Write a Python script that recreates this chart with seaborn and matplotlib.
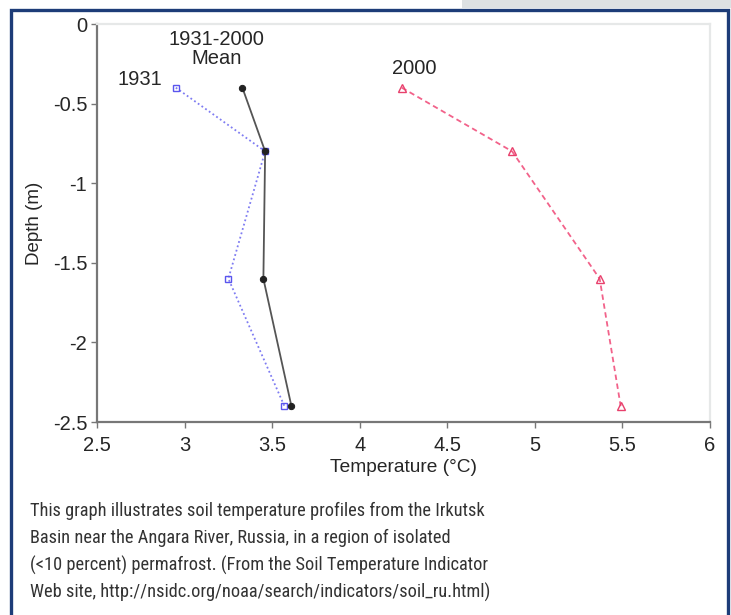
import os
import matplotlib
matplotlib.use("Agg")
import matplotlib.pyplot as plt
from matplotlib import font_manager
from matplotlib.font_manager import FontProperties
import seaborn as sns
import pandas as pd
from matplotlib.patches import Rectangle

depth = [-0.4, -0.8, -1.6, -2.4]
temp_1931 = [2.95, 3.46, 3.25, 3.57]
temp_mean = [3.33, 3.46, 3.45, 3.61]
temp_2000 = [4.24, 4.87, 5.37, 5.49]
xticks = [2.5, 3, 3.5, 4, 4.5, 5, 5.5, 6]
yticks = [0, -0.5, -1, -1.5, -2, -2.5]
caption_lines = [
    "This graph illustrates soil temperature profiles from the Irkutsk",
    "Basin near the Angara River, Russia, in a region of isolated",
    "(<10 percent) permafrost. (From the Soil Temperature Indicator",
    "Web site, http://nsidc.org/noaa/search/indicators/soil_ru.html)",
]

sns.set_style("white")
plt.rcParams['font.family'] = ['Liberation Sans', 'DejaVu Sans']


def find_condensed():
    best = None
    for f in font_manager.fontManager.ttflist:
        base = os.path.basename(f.fname).lower()
        nm = f.name.lower()
        cond = ("narrow" in nm or "condensed" in nm or "narrow" in base
                or "condensed" in base or f.stretch in ("condensed", "semi-condensed"))
        if not cond:
            continue
        if "mono" in nm or "serif" in nm and "sans" not in nm:
            continue
        if f.style != "normal" or f.weight not in (400, "normal", "regular"):
            continue
        if "semi" in base or "extra" in base or "light" in base or "bold" in base:
            continue
        score = 0
        if "liberation" in nm or "arial" in nm:
            score = 3
        elif "roboto" in nm:
            score = 2
        elif "open" in nm or "noto" in nm:
            score = 1
        if best is None or score > best[0]:
            best = (score, f.fname)
    return best[1] if best else None


cond_path = find_condensed()

fig = plt.figure(figsize=(7.31, 6.15), dpi=100)
W, H = 731, 615

fig.patches.append(Rectangle((462 / W, 1 - 8 / H), (W - 462) / W, 8 / H,
                             transform=fig.transFigure, facecolor="#dde1e3",
                             edgecolor="none", zorder=0))
fig.patches.append(Rectangle((11 / W, -0.01), (728 - 11) / W, 1 - 9.5 / H + 0.01,
                             transform=fig.transFigure, facecolor="white",
                             edgecolor="#1d3c78", linewidth=2.4, zorder=1))

ax = fig.add_axes([97 / W, 1 - 422 / H, (710 - 97) / W, (422 - 24) / H])
ax.set_zorder(2)

df = pd.concat([
    pd.DataFrame({"temp": temp_1931, "depth": depth, "series": "1931"}),
    pd.DataFrame({"temp": temp_mean, "depth": depth, "series": "mean"}),
    pd.DataFrame({"temp": temp_2000, "depth": depth, "series": "2000"}),
])

d = df[df.series == "1931"]
sns.lineplot(data=d, x="temp", y="depth", sort=False, estimator=None, ax=ax,
             color="#7f7cf2", linestyle=(0, (1, 1.5)), linewidth=1.3,
             marker="s", markersize=5, markerfacecolor="none",
             markeredgecolor="#5a55ee", markeredgewidth=1.0)
d = df[df.series == "mean"]
sns.lineplot(data=d, x="temp", y="depth", sort=False, estimator=None, ax=ax,
             color="#555555", linestyle="-", linewidth=1.3,
             marker="o", markersize=4.5, markerfacecolor="#222222",
             markeredgecolor="#222222")
d = df[df.series == "2000"]
sns.lineplot(data=d, x="temp", y="depth", sort=False, estimator=None, ax=ax,
             color="#f2628a", linestyle=(0, (3, 2)), linewidth=1.3,
             marker="^", markersize=5.5, markerfacecolor="none",
             markeredgecolor="#e8406c", markeredgewidth=1.0)

ax.set_xlim(2.5, 6)
ax.set_ylim(-2.5, 0)
ax.set_xticks(xticks)
ax.set_xticklabels([f"{t:g}" for t in xticks])
ax.set_yticks(yticks)
ax.set_yticklabels([f"{t:g}" for t in yticks])
ax.tick_params(axis="both", direction="out", length=4, width=1, color="#777777",
               labelsize=14.5, bottom=True, left=True)
ax.tick_params(axis="x", pad=6)
ax.tick_params(axis="y", pad=3)
for s in ["left", "bottom"]:
    ax.spines[s].set_color("#777777")
    ax.spines[s].set_linewidth(1.6)
for s in ["top", "right"]:
    ax.spines[s].set_color("#e6e8e8")
    ax.spines[s].set_linewidth(1.6)
ax.set_xlabel("Temperature (°C)", fontsize=13.8, labelpad=3)
ax.set_ylabel("Depth (m)", fontsize=13.5, labelpad=7)

ax.text(2.871, -0.383, "1931", ha="right", va="baseline", fontsize=14.5)
ax.text(3.18, -0.132, "1931-2000", ha="center", va="baseline", fontsize=14.5)
ax.text(3.18, -0.251, "Mean", ha="center", va="baseline", fontsize=14.5)
ax.text(4.309, -0.314, "2000", ha="center", va="baseline", fontsize=14.5)

# caption: size chosen so the first line spans the same width as in the reference
if cond_path:
    fp = FontProperties(fname=cond_path, size=14)
else:
    fp = FontProperties(family=["Liberation Sans"], size=14)
renderer = fig.canvas.get_renderer()
probe = fig.text(0, 0, caption_lines[0], fontproperties=fp)
wpx = probe.get_window_extent(renderer).width
probe.remove()
size = min(16.5, 14 * 457 / wpx)
fp.set_size(size)
baselines = [516, 543.3, 570.7, 598]
for line, yb in zip(caption_lines, baselines):
    fig.text(30 / W, 1 - yb / H, line, ha="left", va="baseline",
             fontproperties=fp, color="#333333")

fig.savefig("out.png", dpi=100)
